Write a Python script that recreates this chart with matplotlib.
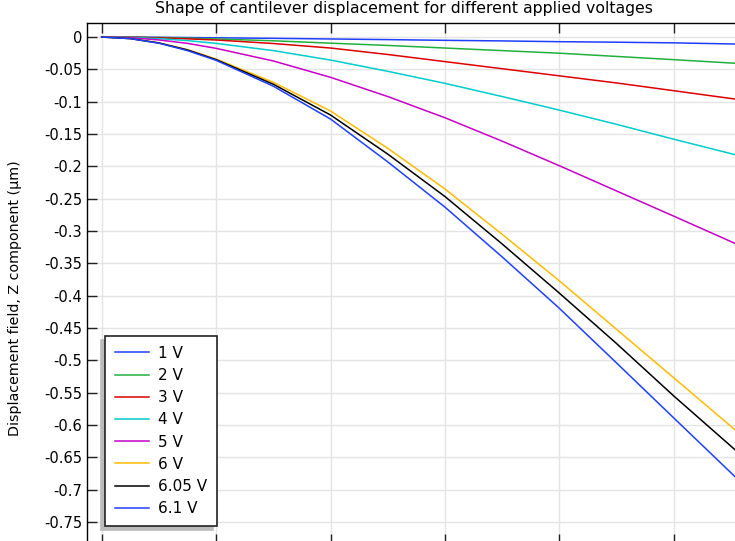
import matplotlib
matplotlib.use("Agg")
import matplotlib.pyplot as plt

plt.rcParams['font.family'] = ['DejaVu Sans']
plt.rcParams['axes.unicode_minus'] = False

# position along the beam (arbitrary units, tick spacing 100)
x = [0, 25, 50, 75, 100, 150, 200, 250, 300, 350, 400, 450, 500, 556]

v1 = [0, -0.0001, -0.0004, -0.0008, -0.0012, -0.002, -0.003, -0.004, -0.0051, -0.006, -0.0072, -0.008, -0.009, -0.0109]
v2 = [0, -0.0002, -0.0008, -0.0017, -0.003, -0.0058, -0.0095, -0.013, -0.017, -0.021, -0.025, -0.030, -0.035, -0.0408]
v3 = [0, -0.0003, -0.0013, -0.0028, -0.0046, -0.010, -0.017, -0.027, -0.038, -0.049, -0.060, -0.071, -0.083, -0.0965]
v4 = [0, -0.0006, -0.0025, -0.0055, -0.0098, -0.021, -0.0356, -0.053, -0.0716, -0.092, -0.113, -0.135, -0.158, -0.183]
v5 = [0, -0.0011, -0.0045, -0.0098, -0.0175, -0.037, -0.0623, -0.092, -0.1248, -0.161, -0.199, -0.238, -0.277, -0.321]
v6 = [0, -0.0023, -0.009, -0.0195, -0.034, -0.070, -0.1144, -0.172, -0.235, -0.305, -0.377, -0.452, -0.527, -0.611]
v605 = [0, -0.0024, -0.0092, -0.020, -0.035, -0.073, -0.1206, -0.181, -0.2466, -0.320, -0.396, -0.474, -0.555, -0.642]
v61 = [0, -0.0025, -0.0095, -0.021, -0.036, -0.076, -0.1268, -0.193, -0.263, -0.340, -0.4195, -0.504, -0.589, -0.684]

series = [v1, v2, v3, v4, v5, v6, v605, v61]
labels = ['1 V', '2 V', '3 V', '4 V', '5 V', '6 V', '6.05 V', '6.1 V']
colors = ['#1f3fff', '#22b03c', '#dd0000', '#00cccc', '#c800c8', '#ffbb00', '#000000', '#1f3fff']

yticks = [0, -0.05, -0.1, -0.15, -0.2, -0.25, -0.3, -0.35, -0.4, -0.45, -0.5,
          -0.55, -0.6, -0.65, -0.7, -0.75]
xticks = [0, 100, 200, 300, 400, 500]

W, H = 735, 541
fig = plt.figure(figsize=(W / 100, H / 100), dpi=100)
ax = fig.add_axes([87 / W, -3 / H, (737 - 87) / W, (544 - 23) / H])

for ys, lab, c in zip(series, labels, colors):
    ax.plot(x, ys, color=c, lw=1.1, label=lab)

ax.set_xlim(-12.85, 555.3)
ax.set_ylim(-0.784, 0.0217)
ax.set_yticks(yticks)
ax.set_yticklabels(['%g' % t for t in yticks])
ax.set_xticks(xticks)
ax.set_xticklabels([])
ax.grid(True, color='#e4e4e4', lw=1)
ax.set_axisbelow(True)
ax.tick_params(direction='in', length=7, width=1, top=True, right=False,
               labelsize=10.5, color='#222222')
for s in ax.spines.values():
    s.set_linewidth(1)

ax.set_ylabel('Displacement field, Z component (µm)', fontsize=10.3)
ax.yaxis.set_label_coords((22 - 87) / 650, (544 - 298) / 521)
fig.text(404 / W, 1 - 9 / H, 'Shape of cantilever displacement for different applied voltages',
         ha='center', va='center', fontsize=11.3)

leg = ax.legend(loc='lower left', bbox_to_anchor=(18 / 650, 18 / 521),
                fancybox=False, framealpha=1, edgecolor='#222222', fontsize=11,
                handlelength=2.2, handletextpad=0.6, borderpad=0.65,
                labelspacing=0.47, borderaxespad=0,
                shadow={'ox': -3, 'oy': -3, 'color': '#bbbbbb', 'alpha': 1})
leg.get_frame().set_linewidth(1.2)

fig.savefig('out.png', dpi=100)
